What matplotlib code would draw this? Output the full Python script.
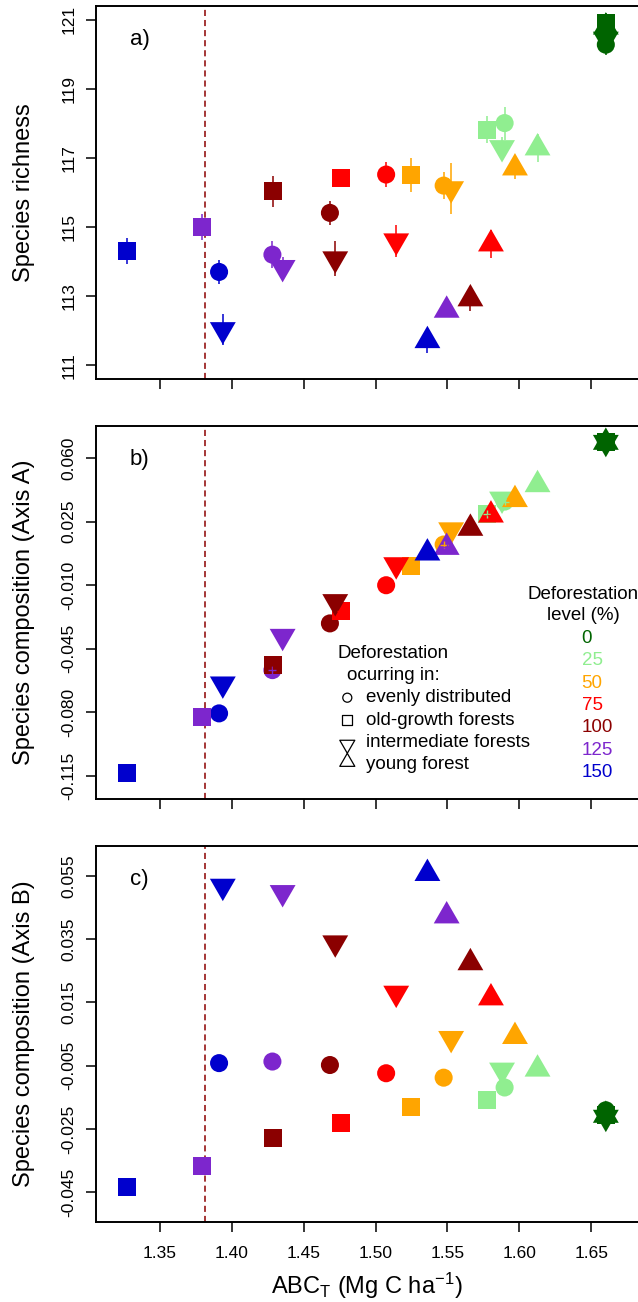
import numpy as np
import matplotlib
matplotlib.use('Agg')
import matplotlib.pyplot as plt
from matplotlib.path import Path

plt.rcParams['font.family'] = ['Liberation Sans', 'DejaVu Sans']
plt.rcParams['mathtext.fontset'] = 'custom'
plt.rcParams['mathtext.rm'] = 'Liberation Sans'
plt.rcParams['mathtext.default'] = 'regular'

# niveis de desmatamento e cores
levels = ['0', '25', '50', '75', '100', '125', '150']
colors = ['#006400', '#90EE90', '#FFA500', '#FF0000', '#8B0000', '#7D26CD', '#0000CD']

# ABC_T (eixo x) por cenario: evenly, old-growth, intermediate, young
x_even = [1.6602, 1.5898, 1.5474, 1.5074, 1.4683, 1.4283, 1.3912]
x_old = [1.6602, 1.5776, 1.5250, 1.4757, 1.4290, 1.3792, 1.3271]
x_inter = [1.6602, 1.5880, 1.5526, 1.5144, 1.4720, 1.4354, 1.3938]
x_young = [1.6602, 1.6127, 1.5970, 1.5803, 1.5660, 1.5495, 1.5361]

# a) riqueza de especies
rich_even = [120.28, 118.01, 116.20, 116.52, 115.41, 114.20, 113.70]
rich_old = [120.91, 117.82, 116.51, 116.42, 116.03, 115.00, 114.31]
rich_inter = [120.44, 117.30, 116.11, 114.60, 114.08, 113.83, 112.03]
rich_young = [120.79, 117.29, 116.71, 114.51, 112.92, 112.59, 111.71]
err_even = [0.30, 0.48, 0.40, 0.37, 0.35, 0.40, 0.36]
err_old = [0.30, 0.40, 0.50, 0.20, 0.45, 0.37, 0.38]
err_inter = [0.30, 0.30, 0.74, 0.47, 0.51, 0.30, 0.44]
err_young = [0.30, 0.41, 0.33, 0.41, 0.36, 0.20, 0.35]

# b) composicao (eixo A)
a_even = [0.0686, 0.0360, 0.0124, -0.0100, -0.0310, -0.0567, -0.0805]
a_old = [0.0686, 0.0292, 0.0004, -0.0243, -0.0541, -0.0825, -0.1131]
a_inter = [0.0686, 0.0374, 0.0205, 0.0013, -0.0190, -0.0381, -0.0643]
a_young = [0.0686, 0.0453, 0.0371, 0.0286, 0.0213, 0.0108, 0.0077]
a_xerr = 0.0028
a_yerr = 0.002

# c) composicao (eixo B)
b_even = [-0.0191, -0.0119, -0.0088, -0.0074, -0.0048, -0.0037, -0.0042]
b_old = [-0.0207, -0.0159, -0.0180, -0.0230, -0.0279, -0.0367, -0.0434]
b_inter = [-0.0213, -0.0064, 0.0036, 0.0179, 0.0338, 0.0497, 0.0517]
b_young = [-0.0207, -0.0061, 0.0042, 0.0164, 0.0275, 0.0423, 0.0557]

threshold = 1.3817
xticks = [1.35, 1.40, 1.45, 1.50, 1.55, 1.60, 1.65]
yticks_a = [111, 113, 115, 117, 119, 121]
yticks_b = [-0.115, -0.080, -0.045, -0.010, 0.025, 0.060]
yticks_c = [-0.045, -0.025, -0.005, 0.015, 0.035, 0.055]

# triangulos centrados no centroide (como no R)
h = np.sqrt(3) / 2
up_tri = Path([(0, 2 * h / 3), (-0.5, -h / 3), (0.5, -h / 3), (0, 2 * h / 3)], closed=True)
down_tri = Path([(0, -2 * h / 3), (-0.5, h / 3), (0.5, h / 3), (0, -2 * h / 3)], closed=True)

W, H = 638, 1302
fig = plt.figure(figsize=(W / 100, H / 100), dpi=100)


def fx(px):
    return px / W


def fy(py):
    return 1 - py / H


left = 96 / W
width = (655 - 96) / W
ax_a = fig.add_axes([left, fy(379), width, 373 / H])
ax_b = fig.add_axes([left, fy(799), width, 373 / H])
ax_c = fig.add_axes([left, fy(1222), width, 376 / H])

series = [(x_even, 'o', 13), (x_old, 's', 13), (x_inter, down_tri, 21.5), (x_young, up_tri, 21.5)]


def draw(ax, ys):
    for (xs, mk, ms), yv in zip(series, ys):
        ax.scatter(xs, yv, marker=mk, s=ms ** 2, c=colors, linewidths=0, zorder=3)


draw(ax_a, [rich_even, rich_old, rich_inter, rich_young])
for (xs, mk, ms), yv, ev in zip(series, [rich_even, rich_old, rich_inter, rich_young],
                                [err_even, err_old, err_inter, err_young]):
    yv = np.array(yv)
    ev = np.array(ev)
    ax_a.vlines(xs, yv - ev, yv + ev, colors=colors, lw=1.1, zorder=4)

draw(ax_b, [a_even, a_old, a_inter, a_young])
for (xs, mk, ms), yv in zip(series, [a_even, a_old, a_inter, a_young]):
    xs = np.array(xs)
    yv = np.array(yv)
    ax_b.vlines(xs, yv - a_yerr, yv + a_yerr, colors=colors, lw=1.0, zorder=4)
    ax_b.hlines(yv, xs - a_xerr, xs + a_xerr, colors=colors, lw=1.0, zorder=4)

draw(ax_c, [b_even, b_old, b_inter, b_young])

ylims = [(111, 121), (-0.12, 0.07), (-0.05, 0.06)]
yt = [yticks_a, yticks_b, yticks_c]
ytl = [[str(v) for v in yticks_a], ['%.3f' % v for v in yticks_b], ['%.3f' % v for v in yticks_c]]
ylabels = ['Species richness', 'Species composition (Axis A)', 'Species composition (Axis B)']
tags = ['a)', 'b)', 'c)']
tag_y = [40, 460, 880]

for i, ax in enumerate([ax_a, ax_b, ax_c]):
    lo, hi = ylims[i]
    pad = (hi - lo) * 0.04
    ax.set_ylim(lo - pad, hi + pad)
    ax.set_xlim(1.32 - 0.0144, 1.68 + 0.0144)
    ax.axvline(threshold, color='#8B0000', lw=1.1, dashes=(4, 2.6), zorder=2)
    ax.set_xticks(xticks)
    ax.set_yticks(yt[i])
    ax.set_yticklabels(ytl[i], rotation=90, va='center')
    if i < 2:
        ax.set_xticklabels([])
    else:
        ax.set_xticklabels(['%.2f' % v for v in xticks])
    ax.tick_params(axis='both', direction='out', length=7, width=1.1, color='black')
    ax.tick_params(axis='y', pad=7, labelsize=12.5)
    ax.tick_params(axis='x', pad=10, labelsize=12.5)
    for sp in ax.spines.values():
        sp.set_linewidth(1.4)
    ax.text(-0.129, 0.5, ylabels[i], transform=ax.transAxes, rotation=90,
            ha='center', va='center', fontsize=17)
    fig.text(fx(130), fy(tag_y[i]), tags[i], ha='left', va='center', fontsize=16)

fig.text(fx(367), fy(1294), r'ABC$_T$ (Mg C ha$^{-1}$)', ha='center', va='baseline', fontsize=17)

# legenda das formas
fig.text(fx(393), fy(653.3), 'Deforestation', ha='center', va='center', fontsize=13.5)
fig.text(fx(393), fy(675), 'ocurring in:', ha='center', va='center', fontsize=13.5)
shape_names = ['evenly distributed', 'old-growth forests', 'intermediate forests', 'young forest']
shape_marks = [('o', 6.5), ('s', 7.2), (down_tri, 12.5), (up_tri, 12.5)]
rows = [697.7, 720, 744.6, 762]
text_rows = [697.7, 720, 742.5, 764.8]
for (mk, ms), name, ry, ty in zip(shape_marks, shape_names, rows, text_rows):
    ax_b.scatter([fx(347.3)], [fy(ry)], marker=mk, s=ms ** 2, facecolors='none',
                 edgecolors='black', linewidths=0.9, transform=fig.transFigure, clip_on=False)
    fig.text(fx(366), fy(ty), name, ha='left', va='center', fontsize=13.5)

# legenda das cores
fig.text(fx(583), fy(594.3), 'Deforestation', ha='center', va='center', fontsize=13.5)
fig.text(fx(583), fy(615), 'level (%)', ha='center', va='center', fontsize=13.5)
for k, (lab, col) in enumerate(zip(levels, colors)):
    fig.text(fx(581.7), fy(638.3 + 22.4 * k), lab, color=col, ha='left', va='center', fontsize=13.5)

fig.savefig('out.png', dpi=100)
